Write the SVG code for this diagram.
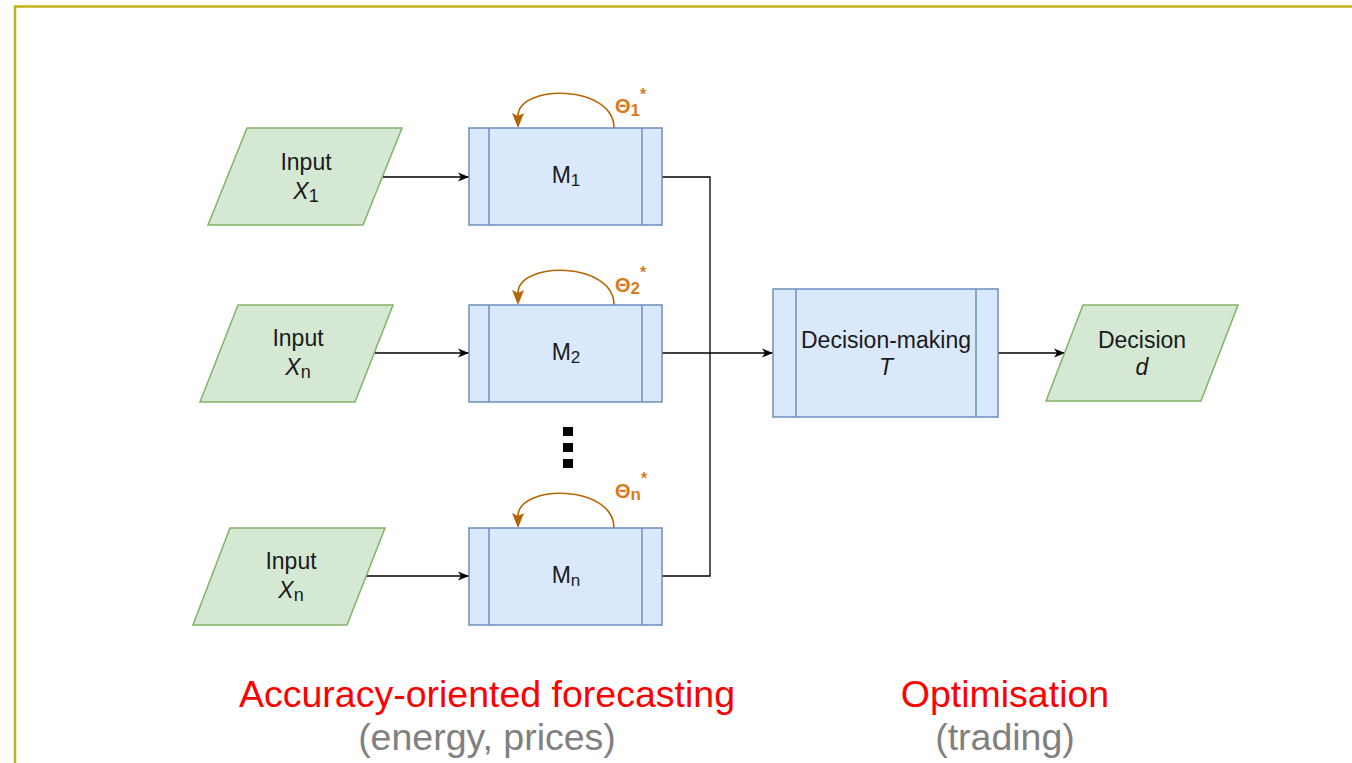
<svg xmlns="http://www.w3.org/2000/svg" width="1352" height="763" viewBox="0 0 1352 763">
<defs>
<marker id="arr" markerWidth="12" markerHeight="12" refX="11" refY="6" orient="auto" markerUnits="userSpaceOnUse">
<path d="M0,1.5 L11,6 L0,10.5 L3,6 Z" fill="#000"/>
</marker>
</defs>
<style>
.par{fill:#d5e8d4;stroke:#82b366;stroke-width:1.5}
.box{fill:#dae8fc;stroke:#6c8ebf;stroke-width:1.5}
.bar{fill:none;stroke:#6c8ebf;stroke-width:1.5}
.t{font-family:"Liberation Sans",Arial,sans-serif;font-size:23px;fill:#1a1a1a;text-anchor:middle}
.th{font-family:"Liberation Sans",Arial,sans-serif;font-size:20px;font-weight:bold;fill:#D67A1E}
.loop{fill:none;stroke:#B46504;stroke-width:1.6}
.ah{fill:#B46504}
.con{fill:none;stroke:#000;stroke-width:1.3}
.big{font-family:"Liberation Sans",Arial,sans-serif;font-size:37.5px;text-anchor:middle}
</style>
<rect x="0" y="0" width="1352" height="763" fill="#fff"/>
<path d="M15,763 L15,6.5 L1352,6.5" fill="none" stroke="#C2B41C" stroke-width="2.5"/>

<g id="connectors">
<line class="con" x1="382" y1="177" x2="469" y2="177" marker-end="url(#arr)"/>
<line class="con" x1="374" y1="353" x2="469" y2="353" marker-end="url(#arr)"/>
<line class="con" x1="366" y1="576" x2="469" y2="576" marker-end="url(#arr)"/>
<path class="con" d="M662,177 L710,177 L710,576 L662,576"/>
<line class="con" x1="662" y1="353" x2="773" y2="353" marker-end="url(#arr)"/>
<line class="con" x1="998" y1="353" x2="1065" y2="353" marker-end="url(#arr)"/>
<path class="loop" d="M614,128 C614,84 518,84 518,116"/>
<path class="ah" d="M512,113 L518,128 L524,113 L518,116 Z"/>
<path class="loop" d="M614,305 C614,261 518,261 518,293"/>
<path class="ah" d="M512,290 L518,305 L524,290 L518,293 Z"/>
<path class="loop" d="M614,528 C614,484 518,484 518,516"/>
<path class="ah" d="M512,513 L518,528 L524,513 L518,516 Z"/>
</g>

<g id="input1">
<polygon class="par" points="247,128 402,128 363,225 208,225"/>
<text class="t" x="306" y="170">Input</text>
<text class="t" x="306" y="199"><tspan font-style="italic">X</tspan><tspan font-size="18" dy="3">1</tspan></text>
</g>
<g id="input2">
<polygon class="par" points="238,305 393,305 355,402 200,402"/>
<text class="t" x="298" y="346">Input</text>
<text class="t" x="298" y="375"><tspan font-style="italic">X</tspan><tspan font-size="18" dy="3">n</tspan></text>
</g>
<g id="input3">
<polygon class="par" points="230,528 385,528 347,625 193,625"/>
<text class="t" x="291" y="569">Input</text>
<text class="t" x="291" y="598"><tspan font-style="italic">X</tspan><tspan font-size="18" dy="3">n</tspan></text>
</g>

<g id="m1">
<rect class="box" x="469" y="128" width="193" height="97"/>
<path class="bar" d="M489,128 V225 M642,128 V225"/>
<text class="t" x="566" y="183" font-size="21">M<tspan font-size="17" dy="3">1</tspan></text>
<text class="th" x="615" y="113">Θ<tspan font-size="17" dy="3">1</tspan><tspan font-size="16" dy="-16">*</tspan></text>
</g>
<g id="m2">
<rect class="box" x="469" y="305" width="193" height="97"/>
<path class="bar" d="M489,305 V402 M642,305 V402"/>
<text class="t" x="566" y="360" font-size="21">M<tspan font-size="17" dy="3">2</tspan></text>
<text class="th" x="615" y="292">Θ<tspan font-size="17" dy="2">2</tspan><tspan font-size="16" dy="-16">*</tspan></text>
</g>
<g id="dots">
<rect x="563" y="427" width="10" height="9" fill="#000"/>
<rect x="563" y="443" width="10" height="9" fill="#000"/>
<rect x="563" y="459" width="10" height="9" fill="#000"/>
</g>
<g id="mn">
<rect class="box" x="469" y="528" width="193" height="97"/>
<path class="bar" d="M489,528 V625 M642,528 V625"/>
<text class="t" x="566" y="583" font-size="21">M<tspan font-size="17" dy="3">n</tspan></text>
<text class="th" x="615" y="498">Θ<tspan font-size="17" dy="2">n</tspan><tspan font-size="16" dy="-16">*</tspan></text>
</g>

<g id="decision-making">
<rect class="box" x="773" y="289" width="225" height="128"/>
<path class="bar" d="M796,289 V417 M976,289 V417"/>
<text class="t" x="886" y="348">Decision-making</text>
<text class="t" x="886" y="375" font-style="italic">T</text>
</g>
<g id="decision">
<polygon class="par" points="1083,305 1238,305 1201,401 1046,401"/>
<text class="t" x="1142" y="348">Decision</text>
<text class="t" x="1142" y="375" font-style="italic">d</text>
</g>

<g id="labels">
<text class="big" x="487" y="707" fill="#FF0000" font-size="38">Accuracy-oriented forecasting</text>
<text class="big" x="487" y="750" fill="#808080">(energy, prices)</text>
<text class="big" x="1005" y="707" fill="#FF0000">Optimisation</text>
<text class="big" x="1005" y="750" fill="#808080">(trading)</text>
</g>
</svg>
